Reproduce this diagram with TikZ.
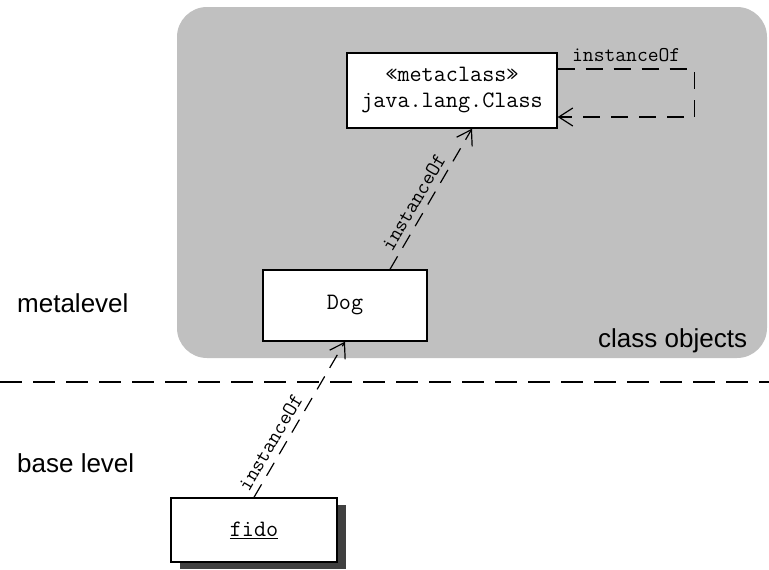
\documentclass[tikz,border=0pt]{standalone}
\usepackage{fontspec}
\setmainfont{Liberation Sans}
\usetikzlibrary{arrows.meta, shadows, calc}

\definecolor{classgray}{RGB}{192,192,192}
\definecolor{shadowgray}{RGB}{64,64,64}

\begin{document}
\begin{tikzpicture}[x=1pt, y=-1pt, >={Straight Barb[length=14pt,width=18pt]},
    box/.style={draw, fill=white, line width=1.4pt, inner sep=0pt, align=center,
      font=\fontsize{23.5}{26}\ttfamily},
    inst/.style={->, line width=1.2pt, dash pattern=on 15pt off 10pt},
    lbl/.style={font=\fontsize{21}{24}\ttfamily, inner sep=2pt},
    level/.style={font=\fontsize{26}{30}\selectfont, inner sep=0pt, anchor=base west}]
    \useasboundingbox (0,0) rectangle (769,570);

    % class objects area
    \fill[classgray, rounded corners=30pt] (177,7) rectangle (767,358);
    \node[level] (classobj) at (598,347) {class objects};

    % level separator
    \coordinate (sepW) at (0,382);
    \coordinate (sepE) at (769,382);
    \draw[line width=1.5pt, dash pattern=on 22pt off 11pt] (sepW) -- (sepE);
    \node[level] (meta lvl) at (17,312) {metalevel};
    \node[level] (base lvl) at (17,472) {base level};

    \node[box, minimum width=210pt, minimum height=75pt] (jlc) at (452,90.5)
      {«metaclass»\\java.lang.Class};
    \node[box, minimum width=164pt, minimum height=71pt] (dog) at (345,305.5) {Dog};
    \node[box, minimum width=166pt, minimum height=64pt,
      drop shadow={shadow xshift=9pt, shadow yshift=-7pt, fill=shadowgray, opacity=1}]
      (fido) at (254,530) {\underline{fido}};

    \draw[inst] (fido.north) -- node[lbl, sloped, above=4pt, pos=0.31] {instanceOf} (dog.south);
    \draw[inst] ([xshift=45pt]dog.north) -- node[lbl, sloped, above=4pt, pos=0.43] {instanceOf}
      ([xshift=20pt]jlc.south);
    \draw[->, line width=1.2pt, dash pattern=on 17pt off 11pt]
      ([yshift=21.5pt]jlc.east) -- node[lbl, above=5pt] {instanceOf} ++(137,0)
      |- ([yshift=-26.5pt]jlc.east);
\end{tikzpicture}
\end{document}
